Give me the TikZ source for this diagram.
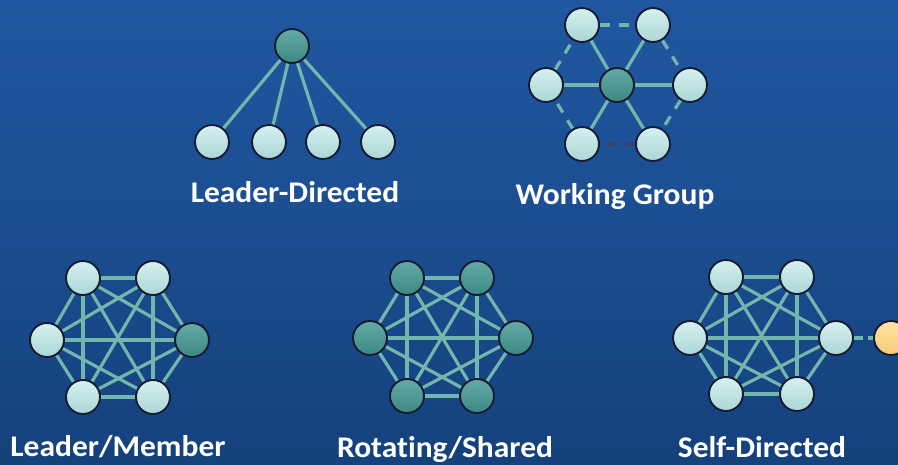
\documentclass[tikz,border=0pt]{standalone}
\usepackage{fontspec}
\setmainfont{Carlito}[FakeStretch=1.05, Ligatures=NoCommon]
\usetikzlibrary{backgrounds}
\pgfdeclarelayer{back}
\pgfsetlayers{back,background,main}
\definecolor{bgtop}{HTML}{2057A0}
\definecolor{bgmid}{HTML}{1B4D90}
\definecolor{bgbot}{HTML}{15417C}
\definecolor{edgec}{HTML}{72B6AE}
\definecolor{rimc}{HTML}{161C34}
\definecolor{lighttop}{HTML}{D6F0F0}
\definecolor{lightbot}{HTML}{ABD6D6}
\definecolor{darktop}{HTML}{62AAA6}
\definecolor{darkbot}{HTML}{3E8884}
\definecolor{yeltop}{HTML}{FFE3A2}
\definecolor{yelbot}{HTML}{F5CC78}
\definecolor{darkdash}{HTML}{3A3F6C}
\tikzset{
  x=1pt, y=-1pt,
  ball/.style={circle, minimum size=34pt, inner sep=0pt, draw=rimc, line width=1.9pt},
  lnode/.style={ball, top color=lighttop, bottom color=lightbot},
  dnode/.style={ball, top color=darktop, bottom color=darkbot},
  ynode/.style={ball, top color=yeltop, bottom color=yelbot},
  link/.style={draw=edgec, line width=3.2pt},
  dlink/.style={link, dash pattern=on 10pt off 9pt},
  ddlink/.style={draw=darkdash, line width=3.2pt, dash pattern=on 10pt off 9pt},
  caption/.style={text=white, font=\fontsize{30}{32}\selectfont\bfseries, inner sep=0pt}
}
\begin{document}
\begin{tikzpicture}
\clip (0,0) rectangle (898,464);
\begin{pgfonlayer}{back}
\shade[top color=bgtop, bottom color=bgbot, middle color=bgmid] (0,0) rectangle (898,464);
\end{pgfonlayer}

% ---------- Leader-Directed ----------
\node[dnode] (LDt) at (292,46) {};
\node[lnode] (LD1) at (212,142) {};
\node[lnode] (LD2) at (269,142) {};
\node[lnode] (LD3) at (323,142) {};
\node[lnode] (LD4) at (378,142) {};
\node[caption] (LDcap) at (295,192) {Leader-Directed};
\begin{scope}[on background layer]
\foreach \k in {1,2,3,4} \draw[link] (LDt) -- (LD\k);
\end{scope}

% ---------- Working Group ----------
\node[dnode] (WGc) at (617,85) {};
\node[lnode] (WG1) at (582,25) {};
\node[lnode] (WG2) at (653,25) {};
\node[lnode] (WG3) at (690,85) {};
\node[lnode] (WG4) at (653,144) {};
\node[lnode] (WG5) at (582,144) {};
\node[lnode] (WG6) at (546,85) {};
\node[caption] (WGcap) at (615,197) {Working Group};
\begin{scope}[on background layer]
\foreach \k in {1,...,6} \draw[link] (WGc) -- (WG\k);
\draw[dlink] (WG1) -- (WG2);
\draw[dlink] (WG2) -- (WG3);
\draw[dlink] (WG3) -- (WG4);
\draw[dlink] (WG6) -- (WG1);
\draw[dlink] (WG5) -- (WG6);
\draw[ddlink] (WG4) -- (WG5);
\end{scope}

% ---------- Leader/Member ----------
\node[lnode] (LM1) at (83,278) {};
\node[lnode] (LM2) at (153,278) {};
\node[dnode] (LM3) at (192,340) {};
\node[lnode] (LM4) at (153,397) {};
\node[lnode] (LM5) at (83,397) {};
\node[lnode] (LM6) at (47,340) {};
\node[caption] (LMcap) at (118,447) {Leader/Member};

% ---------- Rotating/Shared ----------
\node[dnode] (RS1) at (407,278) {};
\node[dnode] (RS2) at (477,278) {};
\node[dnode] (RS3) at (516,338) {};
\node[dnode] (RS4) at (477,396) {};
\node[dnode] (RS5) at (407,396) {};
\node[dnode] (RS6) at (370,338) {};
\node[caption] (RScap) at (445,450) {Rotating/Shared};

% ---------- Self-Directed ----------
\node[lnode] (SD1) at (726,277) {};
\node[lnode] (SD2) at (797,277) {};
\node[lnode] (SD3) at (836,338) {};
\node[lnode] (SD4) at (797,394) {};
\node[lnode] (SD5) at (726,394) {};
\node[lnode] (SD6) at (690,338) {};
\node[ynode] (SDy) at (891,338) {};
\node[caption] (SDcap) at (762,447) {Self-Directed};

\begin{scope}[on background layer]
\foreach \g in {LM,RS,SD}{
  \foreach \a/\b in {1/2,1/3,1/4,1/5,1/6,2/3,2/4,2/5,2/6,3/4,3/5,3/6,4/5,4/6,5/6}
    \draw[link] (\g\a) -- (\g\b);
}
\draw[link, dash pattern=on 9pt off 5pt] (SD3) -- (SDy);
\end{scope}
\end{tikzpicture}
\end{document}
